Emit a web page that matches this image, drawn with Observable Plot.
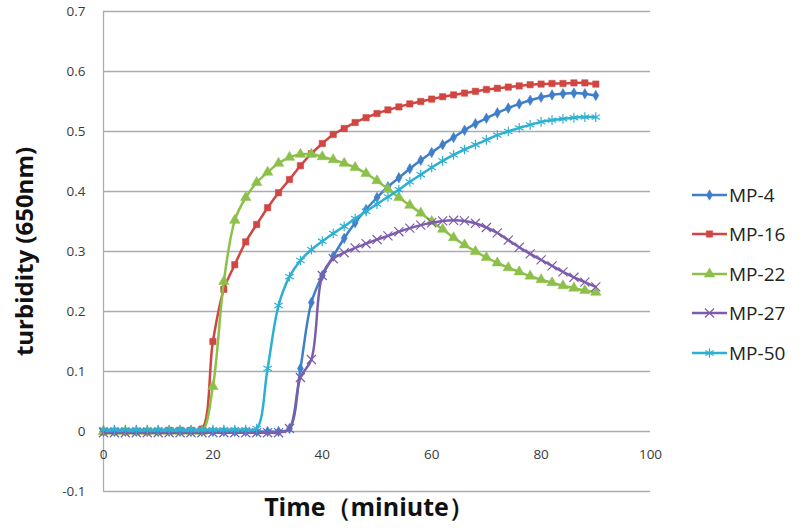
<!DOCTYPE html>
<html>
<head>
<meta charset="utf-8">
<script src="https://cdn.jsdelivr.net/npm/d3@7"></script>
<script src="https://cdn.jsdelivr.net/npm/@observablehq/plot@0.6"></script>
<style>
  html, body { margin: 0; padding: 0; background: #fff; }
  #wrap { position: relative; width: 800px; height: 529px; }
  #legend { position: absolute; left: 690px; top: 175px; font-family: "Open Sans", Lato, sans-serif; font-size: 19px; color: #222; }
  .item { display: flex; align-items: center; height: 39.5px; }
  .item svg { margin-right: 1px; }
</style>
</head>
<body>
<div id="wrap"></div>
<script>
const time = [0,2,4,6,8,10,12,14,16,18,20,22,24,26,28,30,32,34,36,38,40,42,44,46,48,50,52,54,56,58,60,62,64,66,68,70,72,74,76,78,80,82,84,86,88,90];

const mp4 = [0,0,0,0,0,0,0,0,0,0,0,0,0,0,0,0,0,
  0.005,0.105,0.215,0.26,0.292,0.322,0.348,0.37,0.39,0.408,0.423,0.438,0.452,0.465,0.478,0.49,0.502,0.513,0.522,0.531,0.539,0.546,0.552,0.557,0.561,0.563,0.564,0.563,0.56];
const mp16 = [0,0,0,0,0,0,0.002,0.002,0.002,
  0.004,0.15,0.237,0.278,0.316,0.345,0.373,0.398,0.42,0.443,0.463,0.48,0.495,0.505,0.515,0.523,0.53,0.536,0.541,0.546,0.55,0.554,0.558,0.561,0.564,0.567,0.57,0.572,0.574,0.576,0.578,0.579,0.58,0.58,0.581,0.581,0.579];
const mp22 = [0,0,0,0,0,0,0,0,0,0,
  0.075,0.25,0.352,0.39,0.415,0.432,0.447,0.457,0.462,0.462,0.458,0.453,0.447,0.44,0.43,0.418,0.404,0.39,0.377,0.364,0.35,0.337,0.323,0.311,0.3,0.29,0.281,0.273,0.266,0.259,0.253,0.248,0.243,0.239,0.235,0.232];
const mp27 = [-0.002,-0.002,-0.002,-0.002,-0.002,-0.002,-0.002,-0.002,-0.002,-0.002,-0.002,-0.002,-0.002,-0.002,-0.002,-0.002,-0.002,
  0.005,0.09,0.12,0.26,0.288,0.298,0.306,0.313,0.32,0.326,0.333,0.339,0.344,0.348,0.351,0.352,0.351,0.347,0.34,0.331,0.319,0.307,0.296,0.286,0.276,0.266,0.257,0.249,0.241];
const mp50 = [0.003,0.003,0.003,0.003,0.003,0.003,0.003,0.003,0.003,0.003,0.003,0.003,0.003,0.003,
  0.005,0.105,0.21,0.258,0.285,0.303,0.317,0.33,0.342,0.355,0.367,0.379,0.391,0.403,0.416,0.428,0.44,0.451,0.461,0.47,0.478,0.486,0.494,0.5,0.506,0.511,0.516,0.519,0.521,0.523,0.524,0.524];

const seriesNames = ["MP-4","MP-16","MP-22","MP-27","MP-50"];
const seriesValues = [mp4, mp16, mp22, mp27, mp50];
const colors = ["#3f7fca","#d04642","#8dc04a","#7c5cad","#2eb0d2"];
const symbols = ["diamond","square","triangle","times","asterisk"];
const symbolFilled = [true,true,true,false,false];
const symbolR = [3.2,3.6,3.9,4.2,4.6];

const yTicks = [-0.1,0,0.1,0.2,0.3,0.4,0.5,0.6,0.7];
const xTicks = [0,20,40,60,80,100];
const xLabel = "Time（miniute）";
const yLabel = "turbidity (650nm)";

const font = "'Open Sans', Lato, sans-serif";

const marks = [
  Plot.ruleY(yTicks, {stroke: "#a9adb2", strokeWidth: 1.3}),
  Plot.ruleX([0], {stroke: "#a9adb2", strokeWidth: 1.3}),
  Plot.axisY(yTicks, {label: null, tickSize: 0, tickPadding: 18, fontSize: 13.5, fill: "#3a3a3a",
    tickFormat: d => d === 0 ? "0" : (d < 0 ? "-" + Math.abs(d).toFixed(1) : d.toFixed(1))}),
  Plot.text(xTicks, {x: d => d, y: 0, dy: 23, text: d => String(d), fontSize: 13.5, fill: "#3a3a3a"}),
  Plot.text([xLabel], {frameAnchor: "bottom", dx: -8, dy: 24, fontSize: 25, fontWeight: "bold", fill: "#111", fontFamily: font}),
  Plot.text([yLabel], {frameAnchor: "left", textAnchor: "middle", dx: -78, rotate: -90, fontSize: 24, fontWeight: "bold", fill: "#111", fontFamily: font})
];

seriesNames.forEach((name, i) => {
  const rows = time.map((t, j) => ({t, v: seriesValues[i][j]}));
  marks.push(Plot.line(rows, {x: "t", y: "v", stroke: colors[i], strokeWidth: 2.5, curve: "catmull-rom"}));
  marks.push(Plot.dot(rows, {x: "t", y: "v", symbol: symbols[i], r: symbolR[i],
    fill: symbolFilled[i] ? colors[i] : "none", stroke: colors[i], strokeWidth: symbolFilled[i] ? 0.5 : 1.2}));
});

const chart = Plot.plot({
  width: 800, height: 529,
  marginLeft: 103, marginRight: 150, marginTop: 11, marginBottom: 38,
  style: {fontFamily: font, background: "#fff"},
  x: {domain: [0, 100], axis: null},
  y: {domain: [-0.1, 0.7], axis: null},
  marks
});
const wrap = document.getElementById("wrap");
wrap.appendChild(chart);

// Legend
const legend = document.createElement("div");
legend.id = "legend";
seriesNames.forEach((name, i) => {
  const item = document.createElement("div");
  item.className = "item";
  const svg = d3.create("svg").attr("width", 38).attr("height", 16);
  svg.append("line").attr("x1", 2).attr("x2", 37).attr("y1", 8).attr("y2", 8)
    .attr("stroke", colors[i]).attr("stroke-width", 2.6);
  const symType = {diamond: d3.symbolDiamond, square: d3.symbolSquare, triangle: d3.symbolTriangle, times: d3.symbolTimes, asterisk: d3.symbolAsterisk}[symbols[i]];
  const r = symbolR[i];
  svg.append("path").attr("transform", "translate(19.5,8)")
    .attr("d", d3.symbol(symType, Math.PI * r * r)())
    .attr("fill", symbolFilled[i] ? colors[i] : "none")
    .attr("stroke", colors[i]).attr("stroke-width", symbolFilled[i] ? 0.5 : 1.2);
  item.appendChild(svg.node());
  const span = document.createElement("span");
  span.textContent = name;
  item.appendChild(span);
  legend.appendChild(item);
});
wrap.appendChild(legend);
</script>
</body>
</html>
